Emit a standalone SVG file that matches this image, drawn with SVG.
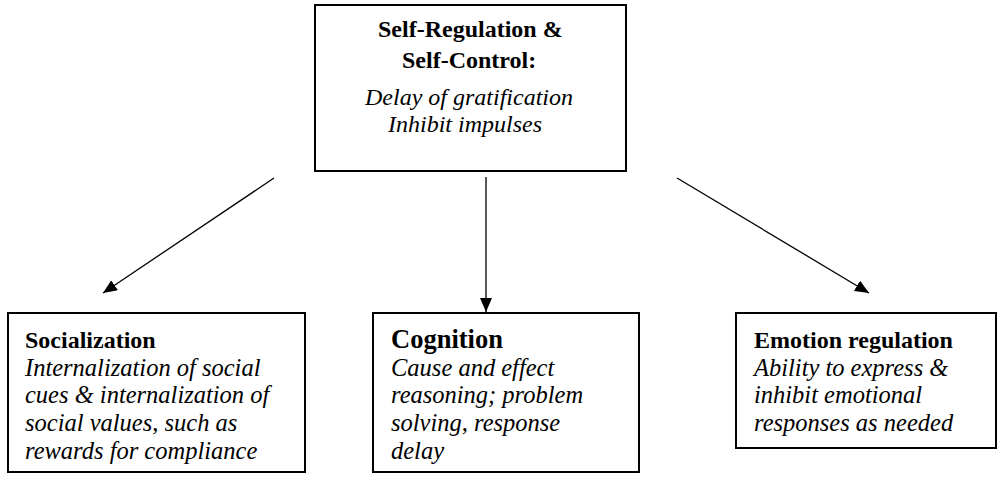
<svg xmlns="http://www.w3.org/2000/svg" width="999" height="479" viewBox="0 0 999 479">
<style>
.box{fill:#fff;stroke:#000;stroke-width:2}
.b{font-family:"Liberation Serif","Times New Roman",serif;font-weight:bold;font-size:24px;fill:#000}
.i{font-family:"Liberation Serif","Times New Roman",serif;font-style:italic;font-size:24.5px;fill:#000}
.t{font-size:24px}
.big{font-size:26.5px}
.con{stroke:#000;stroke-width:1.3;fill:none;marker-end:url(#ah)}
</style>
<defs>
<marker id="ah" markerUnits="userSpaceOnUse" markerWidth="15" markerHeight="13" refX="14" refY="6" orient="auto">
<path d="M0,0 L14,6 L0,12 z" fill="#000"/>
</marker>
</defs>
<rect width="999" height="479" fill="#fff"/>
<g id="connectors">
<line class="con" x1="274" y1="178" x2="103" y2="293"/>
<line class="con" x1="486" y1="177" x2="486" y2="312"/>
<line class="con" x1="677" y1="178" x2="869" y2="293"/>
</g>
<g id="self-regulation">
<rect class="box" x="315" y="5" width="311" height="166"/>
<text class="b" x="378" y="37">Self-Regulation &amp;</text>
<text class="b" x="402" y="68">Self-Control:</text>
<text class="i t" x="365" y="105">Delay of gratification</text>
<text class="i t" x="388" y="132">Inhibit impulses</text>
</g>
<g id="socialization">
<rect class="box" x="8" y="313" width="297" height="159"/>
<text class="b" x="25" y="348">Socialization</text>
<text class="i" x="25" y="376">Internalization of social</text>
<text class="i" x="25" y="403">cues &amp; internalization of</text>
<text class="i" x="25" y="431">social values, such as</text>
<text class="i" x="25" y="459">rewards for compliance</text>
</g>
<g id="cognition">
<rect class="box" x="373" y="313" width="266" height="159"/>
<text class="b big" x="391" y="348">Cognition</text>
<text class="i" x="391" y="376">Cause and effect</text>
<text class="i" x="391" y="403">reasoning; problem</text>
<text class="i" x="391" y="431">solving, response</text>
<text class="i" x="391" y="459">delay</text>
</g>
<g id="emotion-regulation">
<rect class="box" x="736" y="313" width="260" height="135"/>
<text class="b" x="754" y="348">Emotion regulation</text>
<text class="i" x="754" y="376">Ability to express &amp;</text>
<text class="i" x="754" y="403">inhibit emotional</text>
<text class="i" x="754" y="431">responses as needed</text>
</g>
</svg>
